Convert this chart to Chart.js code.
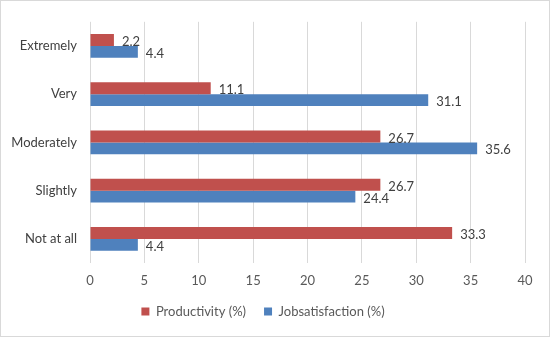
<!DOCTYPE html>
<html>
<head>
<meta charset="utf-8">
<script src="https://cdn.jsdelivr.net/npm/chart.js@4"></script>
<style>
  body { margin: 0; background: #fff; }
  #wrap { position: relative; width: 548px; height: 335px; border: 1px solid #D9D9D9; }
</style>
</head>
<body>
<div id="wrap"><canvas id="chart" width="548" height="335"></canvas></div>
<script>
// survey results
const categories = ['Extremely', 'Very', 'Moderately', 'Slightly', 'Not at all'];
const productivity = [2.2, 11.1, 26.7, 26.7, 33.3];
const jobsatisfaction = [4.4, 31.1, 35.6, 24.4, 4.4];
const xTicks = [0, 5, 10, 15, 20, 25, 30, 35, 40];

const fontFamily = 'Lato, "Open Sans", sans-serif';

// draws the value just after the end of each bar
const valueLabels = {
  id: 'valueLabels',
  afterDatasetsDraw(chart) {
    const ctx = chart.ctx;
    ctx.save();
    ctx.font = '13px ' + fontFamily;
    ctx.fillStyle = '#404040';
    ctx.textAlign = 'left';
    ctx.textBaseline = 'middle';
    chart.data.datasets.forEach((ds, i) => {
      chart.getDatasetMeta(i).data.forEach((bar, j) => {
        ctx.fillText(ds.data[j].toFixed(1), bar.x + 8, bar.y + 2);
      });
    });
    ctx.restore();
  }
};

const data = {
  labels: categories,
  datasets: [
    {
      label: 'Productivity (%)',
      data: productivity,
      backgroundColor: '#C0504D',
      categoryPercentage: 0.49,
      barPercentage: 1
    },
    {
      label: 'Jobsatisfaction (%)',
      data: jobsatisfaction,
      backgroundColor: '#4F81BD',
      categoryPercentage: 0.49,
      barPercentage: 1
    }
  ]
};

const config = {
  type: 'bar',
  data: data,
  options: {
    indexAxis: 'y',
    responsive: false,
    animation: false,
    layout: { padding: { top: 16, right: 24, bottom: 8, left: 0 } },
    scales: {
      x: {
        min: 0,
        max: 40,
        afterBuildTicks: scale => { scale.ticks = xTicks.map(v => ({ value: v })); },
        grid: { color: '#D9D9D9', drawTicks: false },
        border: { display: false },
        ticks: { padding: 10, color: '#595959', font: { size: 13, family: fontFamily } },
        afterFit: scale => { scale.height = 24; }
      },
      y: {
        grid: { display: false, drawTicks: false },
        border: { display: false },
        ticks: { padding: 13, color: '#404040', font: { size: 13, family: fontFamily } },
        afterFit: scale => { scale.width = 89; }
      }
    },
    plugins: {
      legend: {
        position: 'bottom',
        labels: {
          boxWidth: 8,
          boxHeight: 8,
          padding: 18,
          color: '#595959',
          font: { size: 13, family: fontFamily }
        }
      },
      tooltip: { enabled: false }
    }
  },
  plugins: [valueLabels]
};

var myChart = new Chart(document.getElementById('chart'), config);
</script>
</body>
</html>
